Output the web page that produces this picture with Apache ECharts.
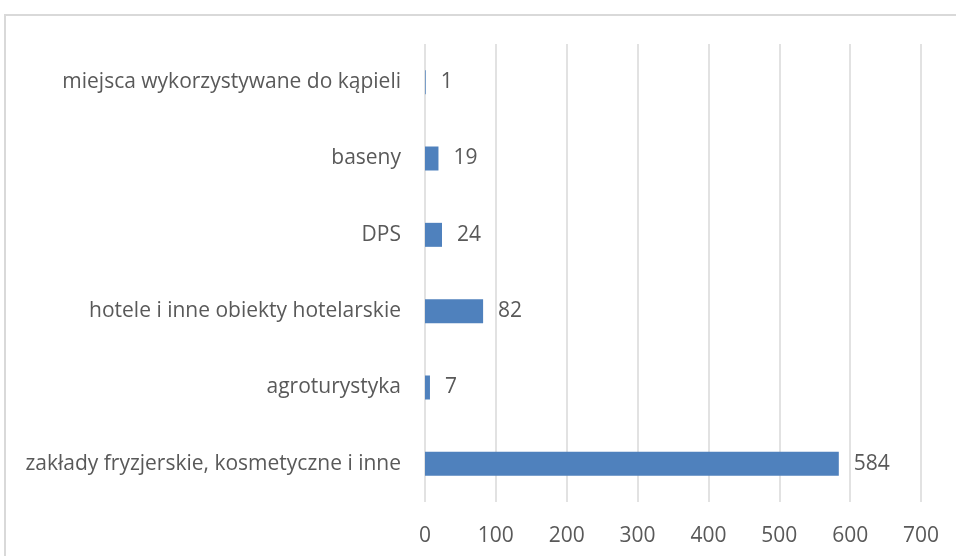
<!DOCTYPE html>
<html>
<head>
<meta charset="utf-8">
<script src="https://cdn.jsdelivr.net/npm/echarts@6/dist/echarts.min.js"></script>
<style>
  html, body { margin: 0; padding: 0; background: #fff; overflow: hidden; }
  #frame { position: absolute; left: 4px; top: 14px; width: 1000px; height: 1000px; border: 2px solid #d9d9d9; box-sizing: border-box; }
  #chart { position: absolute; left: 0; top: 0; width: 956px; height: 556px; }
</style>
</head>
<body>
<div id="frame"></div>
<div id="chart"></div>
<script>
// kategorie od dołu do góry (oś kategorii w ECharts rośnie w górę)
const categories = [
  'zakłady fryzjerskie, kosmetyczne i inne',
  'agroturystyka',
  'hotele i inne obiekty hotelarskie',
  'DPS',
  'baseny',
  'miejsca wykorzystywane do kąpieli'
];
const values = [584, 7, 82, 24, 19, 1];
const xTicks = { min: 0, max: 700, interval: 100 };

const fontFamily = '"Open Sans", "Noto Sans", sans-serif';
const textColor = '#595959';

let option = {
  animation: false,
  grid: {
    left: 425,
    right: 35,
    top: 44,
    bottom: 54
  },
  xAxis: {
    type: 'value',
    min: xTicks.min,
    max: xTicks.max,
    interval: xTicks.interval,
    axisLine: { show: false },
    axisTick: { show: false },
    axisLabel: {
      color: textColor,
      fontFamily: fontFamily,
      fontSize: 21,
      margin: 24
    },
    splitLine: { lineStyle: { color: '#d9d9d9', width: 1.5 } }
  },
  yAxis: {
    type: 'category',
    data: categories,
    axisLine: { show: false },
    axisTick: { show: false },
    axisLabel: {
      color: textColor,
      fontFamily: fontFamily,
      fontSize: 21,
      margin: 24,
      padding: [4, 0, 0, 0]
    }
  },
  series: [{
    type: 'bar',
    data: values,
    barWidth: 24,
    itemStyle: { color: '#4f81bd' },
    label: {
      show: true,
      position: 'right',
      distance: 15,
      color: textColor,
      fontFamily: fontFamily,
      fontSize: 21,
      padding: [4, 0, 0, 0]
    }
  }]
};

let myChart = echarts.init(document.getElementById('chart'));
myChart.setOption(option);
</script>
</body>
</html>
